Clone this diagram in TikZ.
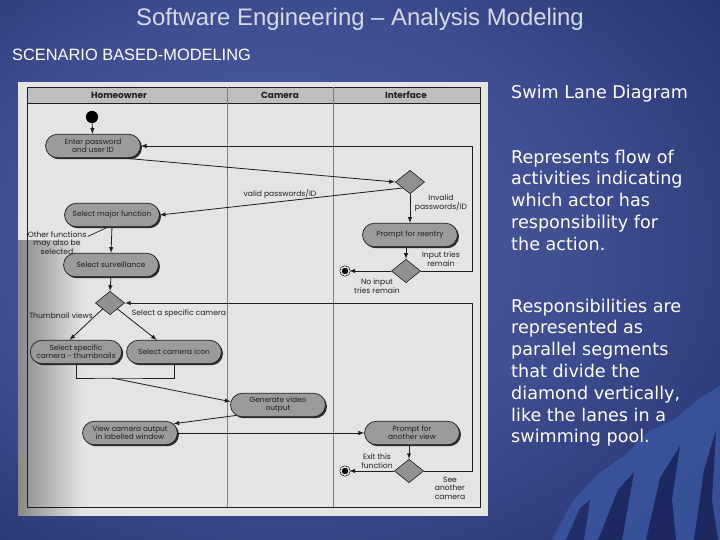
\documentclass[tikz,border=0pt]{standalone}
\usepackage{fontspec}
\setmainfont{Liberation Sans}
\newfontfamily\flowfont{Poppins}
\newfontfamily\blurbfont{DejaVu Sans}
\usepackage{tikz}
\usetikzlibrary{arrows,shapes.misc,shapes.geometric,shadows,fadings}

\definecolor{bgdark}{RGB}{18,24,72}
\definecolor{hillblue}{RGB}{60,90,165}
\definecolor{paper}{RGB}{228,228,226}
\definecolor{actgray}{RGB}{155,155,155}
\definecolor{decgray}{RGB}{145,145,145}
\definecolor{headgray}{RGB}{190,190,190}
\definecolor{inkgray}{RGB}{30,30,30}
\definecolor{titlegray}{RGB}{212,218,232}

\pgfdeclareradialshading{slidebg}{\pgfpoint{-8bp}{4bp}}{rgb(0bp)=(0.32,0.39,0.65); rgb(22bp)=(0.24,0.30,0.56); rgb(45bp)=(0.12,0.16,0.39); rgb(70bp)=(0.07,0.09,0.26)}

\begin{document}
\begin{tikzpicture}[x=0.03cm, y=-0.03cm,
  act/.style={rounded rectangle, draw=inkgray, fill=actgray, line width=0.6pt,
    minimum width=82pt, minimum height=20pt, inner sep=0.5pt, align=center,
    font=\flowfont\fontsize{6.3}{7}\selectfont, text=inkgray,
    drop shadow={shadow xshift=1.3pt, shadow yshift=-1.3pt, fill=black, opacity=0.8}},
  dec/.style={diamond, draw=inkgray, fill=decgray, line width=0.5pt,
    minimum width=25pt, minimum height=20pt, inner sep=0pt},
  startdot/.style={circle, fill=black, minimum size=10.5pt, inner sep=0pt},
  enddot/.style={circle, fill=black, draw=black, double=paper, double distance=1.2pt,
    line width=0.5pt, minimum size=7pt, inner sep=0pt},
  lbl/.style={align=center, inner sep=1pt, font=\flowfont\fontsize{6.5}{7.2}\selectfont, text=inkgray},
  lane/.style={font=\flowfont\bfseries\fontsize{7.6}{9}\selectfont, text=inkgray},
  flow/.style={-latex, draw=inkgray, line width=0.7pt},
  wire/.style={draw=inkgray, line width=0.6pt},
  blurb/.style={align=left, inner sep=0pt, text=white, font=\blurbfont\fontsize{15}{18.6}\selectfont}]
\useasboundingbox (0,0) rectangle (720,540);

% Drawing slide background
\shade[shading=slidebg] (0,0) rectangle (720,540);
\fill[hillblue, opacity=0.75] (552,540) -- (572,502) -- (598,474) -- (624,456) -- (648,432) -- (676,418) -- (700,398) -- (720,386) -- (720,540) -- cycle;
\fill[bgdark, opacity=0.7] (598,540) -- (618,490) -- (634,472) -- (622,540) -- cycle;
\fill[bgdark, opacity=0.7] (646,540) -- (660,478) -- (680,446) -- (672,500) -- (676,540) -- cycle;
\fill[bgdark, opacity=0.7] (694,540) -- (704,470) -- (716,430) -- (712,500) -- (718,540) -- cycle;
\fill[bgdark, opacity=0.6] (566,540) -- (580,508) -- (590,500) -- (584,540) -- cycle;

% Drawing titles
\node[anchor=base, text=titlegray, font=\fontsize{20.4}{24}\selectfont] (title) at (360,26) {Software Engineering -- Analysis Modeling};
\node[anchor=base west, text=white, font=\fontsize{14}{17}\selectfont] (subtitle) at (8,61) {SCENARIO BASED-MODELING};

% Drawing scanned page
\fill[paper] (18,82) rectangle (488,516);
\fill[black, opacity=0.4, path fading=east] (18,240) rectangle (82,516);

% Drawing lanes
\fill[headgray] (27,87) rectangle (480,103);
\draw[inkgray, line width=0.6pt] (27,87) rectangle (480,507);
\draw[inkgray, line width=0.5pt] (27,103) -- (480,103);
\draw[gray, line width=0.4pt] (227,87) -- (227,507);
\draw[gray, line width=0.4pt] (333,87) -- (333,507);
\node[lane] (homeowner) at (119,95) {Homeowner};
\node[lane] (camera) at (280,95) {Camera};
\node[lane] (interface) at (406,95) {Interface};

% Drawing activities
\node[startdot] (start) at (92,117) {};
\node[act] (enter) at (93,146) {Enter password\\and user ID};
\node[dec] (pwdcheck) at (410,182) {};
\node[act] (major) at (112,215) {Select major function};
\node[act] (reentry) at (410,235) {Prompt for reentry};
\node[dec] (tries) at (406,271) {};
\node[enddot] (stopA) at (345,271) {};
\node[act] (surv) at (111,265) {Select surveillance};
\node[dec] (viewsel) at (110,303) {};
\node[act, minimum width=79pt] (thumbs) at (76,352) {Select specific\\camera - thumbnails};
\node[act] (camicon) at (174,352) {Select camera icon};
\node[act] (genvideo) at (278,405) {Generate video\\output};
\node[act] (viewout) at (130,433) {View camera output\\in labelled window};
\node[act] (another) at (412,433) {Prompt for\\another view};
\node[dec] (again) at (409,471) {};
\node[enddot] (stopB) at (345,471) {};

% Drawing guard labels
\node[lbl] (validlbl) at (280,194) {valid passwords/ID};
\node[lbl] (invalidlbl) at (441,203) {Invalid\\passwords/ID};
\node[lbl] (remainlbl) at (441,259) {Input tries\\remain};
\node[lbl] (nonelbl) at (377,286) {No input\\tries remain};
\node[lbl] (otherlbl) at (57,243) {Other functions\\may also be\\selected};
\node[lbl] (thumblbl) at (61,316) {Thumbnail views};
\node[lbl] (specificlbl) at (179,314) {Select a specific camera};
\node[lbl] (exitlbl) at (377,461) {Exit this\\function};
\node[lbl] (seelbl) at (450,488) {See\\another\\camera};

% Drawing flows
\coordinate (loopNE) at (472,146);
\coordinate (loopSE) at (472,271);
\coordinate (loopTwoNE) at (472,303);
\coordinate (loopTwoSE) at (472,471);
\coordinate (joinM) at (112,378);
\coordinate (otherTip) at (106,228);

\draw[flow] (start) -- (enter);
\draw[flow] (enter.-22) -- (pwdcheck.west);
\draw[flow] (pwdcheck.south west) -- (major.east);
\draw[flow] (pwdcheck.south) -- (reentry.north);
\draw[flow] (reentry.south -| tries.north) -- (tries.north);
\draw[flow] (tries.west) -- (stopA);
\draw[flow] (tries.east) -- (loopSE) -- (loopNE) -- (enter.east);
\draw[wire] (otherlbl.12) -- (otherTip);
\draw[flow] (major.south) -- (surv.north);
\draw[flow] (surv.south) -- (viewsel.north);
\draw[flow] (viewsel.south west) -- (thumbs.118);
\draw[flow] (viewsel.south east) -- (camicon.145);
\draw[wire] (thumbs.south) |- (joinM) -| (camicon.south);
\draw[flow] (joinM) -- (genvideo.176);
\draw[flow] (genvideo.194) -- (viewout.12);
\draw[flow] (viewout.east) -- (another.west);
\draw[flow] (another.south -| again.north) -- (again.north);
\draw[flow] (again.west) -- (stopB);
\draw[flow] (again.east) -- (loopTwoSE) -- (loopTwoNE) -- (viewsel.east);

% Drawing notes
\node[blurb, anchor=base west] (swimhead) at (511,99) {Swim Lane Diagram};
\node[blurb, anchor=north west] (flowpara) at (511,149.6) {Represents flow of\\activities indicating\\which actor has\\responsibility for\\the action.};
\node[blurb, anchor=north west] (lanepara) at (511,298.6) {Responsibilities are\\represented as\\parallel segments\\that divide the\\diamond vertically,\\like the lanes in a\\swimming pool.};
\end{tikzpicture}
\end{document}
